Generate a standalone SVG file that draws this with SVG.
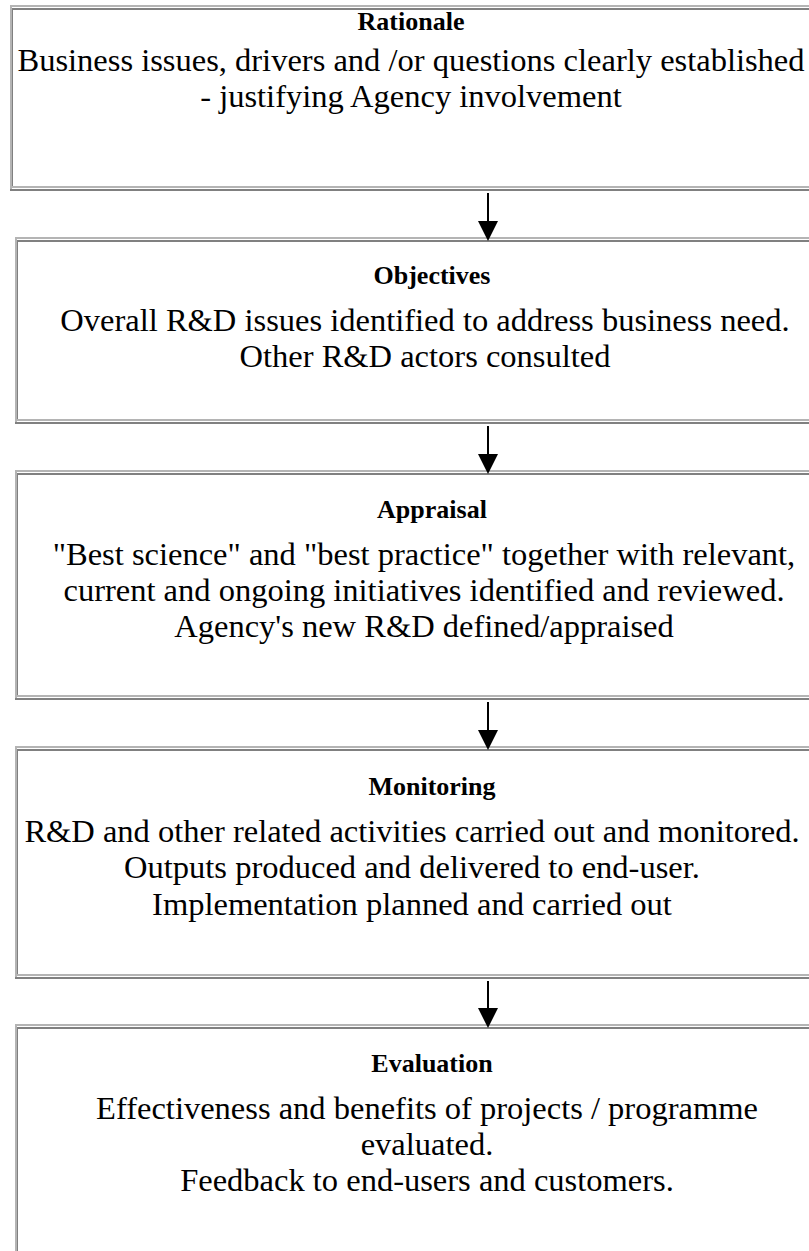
<svg xmlns="http://www.w3.org/2000/svg" width="809" height="1251" viewBox="0 0 809 1251">
  <defs>
    <style>
      .light { fill: #b4b4b4; }
      .dark { fill: #808080; }
      .title { font-family: "Liberation Serif", "Times New Roman", serif; font-size: 26px; font-weight: bold; fill: #000; text-anchor: middle; }
      .body { font-family: "Liberation Serif", "Times New Roman", serif; font-size: 32.5px; fill: #000; text-anchor: middle; }
      .flow { stroke: #000; stroke-width: 2; fill: none; }
    </style>
    <!-- arrowhead drawn pointing along +x, rotated to the line direction -->
    <marker id="head" markerWidth="20" markerHeight="20" refX="10" refY="10" orient="auto" markerUnits="userSpaceOnUse" viewBox="0 0 20 20">
      <path d="M0,0 L20,10 L0,20 Z" fill="#000"/>
    </marker>
  </defs>
  <rect width="809" height="1251" fill="#fff"/>

  <!-- Rationale -->
  <g id="rationale">
    <rect class="light" x="10" y="5" width="799" height="2"/>
    <rect class="light" x="10" y="5" width="2" height="186"/>
    <rect class="dark" x="12" y="8" width="797" height="2"/>
    <rect class="dark" x="12" y="8" width="1" height="179"/>
    <rect class="light" x="12" y="186" width="797" height="2"/>
    <rect class="dark" x="10" y="189" width="799" height="2"/>
    <text class="title" x="411" y="30">Rationale</text>
    <text class="body" x="411" y="71">Business issues, drivers and /or questions clearly established</text>
    <text class="body" x="411" y="107">- justifying Agency involvement</text>
  </g>

  <!-- Objectives -->
  <g id="objectives">
    <rect class="light" x="15" y="237" width="794" height="2"/>
    <rect class="light" x="15" y="237" width="2" height="187"/>
    <rect class="dark" x="17" y="240" width="792" height="2"/>
    <rect class="dark" x="17" y="240" width="1" height="180"/>
    <rect class="light" x="17" y="419" width="792" height="2"/>
    <rect class="dark" x="15" y="422" width="794" height="2"/>
    <text class="title" x="432" y="284">Objectives</text>
    <text class="body" x="425" y="331">Overall R&amp;D issues identified to address business need.</text>
    <text class="body" x="425" y="367">Other R&amp;D actors consulted</text>
  </g>

  <!-- Appraisal -->
  <g id="appraisal">
    <rect class="light" x="15" y="470" width="794" height="2"/>
    <rect class="light" x="15" y="470" width="2" height="230"/>
    <rect class="dark" x="17" y="473" width="792" height="2"/>
    <rect class="dark" x="17" y="473" width="1" height="223"/>
    <rect class="light" x="17" y="695" width="792" height="2"/>
    <rect class="dark" x="15" y="698" width="794" height="2"/>
    <text class="title" x="432" y="518">Appraisal</text>
    <text class="body" x="424" y="565">"Best science" and "best practice" together with relevant,</text>
    <text class="body" x="424" y="601">current and ongoing initiatives identified and reviewed.</text>
    <text class="body" x="424" y="637">Agency's new R&amp;D defined/appraised</text>
  </g>

  <!-- Monitoring -->
  <g id="monitoring">
    <rect class="light" x="15" y="746" width="794" height="2"/>
    <rect class="light" x="15" y="746" width="2" height="233"/>
    <rect class="dark" x="17" y="749" width="792" height="2"/>
    <rect class="dark" x="17" y="749" width="1" height="226"/>
    <rect class="light" x="17" y="974" width="792" height="2"/>
    <rect class="dark" x="15" y="977" width="794" height="2"/>
    <text class="title" x="432" y="795">Monitoring</text>
    <text class="body" x="412" y="842">R&amp;D and other related activities carried out and monitored.</text>
    <text class="body" x="412" y="878">Outputs produced and delivered to end-user.</text>
    <text class="body" x="412" y="915">Implementation planned and carried out</text>
  </g>

  <!-- Evaluation -->
  <g id="evaluation">
    <rect class="light" x="15" y="1024" width="794" height="2"/>
    <rect class="light" x="15" y="1024" width="2" height="227"/>
    <rect class="dark" x="17" y="1027" width="792" height="2"/>
    <rect class="dark" x="17" y="1027" width="1" height="224"/>
    <text class="title" x="432" y="1072">Evaluation</text>
    <text class="body" x="427" y="1119">Effectiveness and benefits of projects / programme</text>
    <text class="body" x="427" y="1155">evaluated.</text>
    <text class="body" x="427" y="1191">Feedback to end-users and customers.</text>
  </g>

  <!-- Connectors: shaft ends 10px above the tip; the marker carries the head -->
  <g id="connectors">
    <line class="flow" x1="488" y1="193" x2="488" y2="231" marker-end="url(#head)"/>
    <line class="flow" x1="488" y1="426" x2="488" y2="464" marker-end="url(#head)"/>
    <line class="flow" x1="488" y1="702" x2="488" y2="740" marker-end="url(#head)"/>
    <line class="flow" x1="488" y1="981" x2="488" y2="1018" marker-end="url(#head)"/>
  </g>
</svg>
